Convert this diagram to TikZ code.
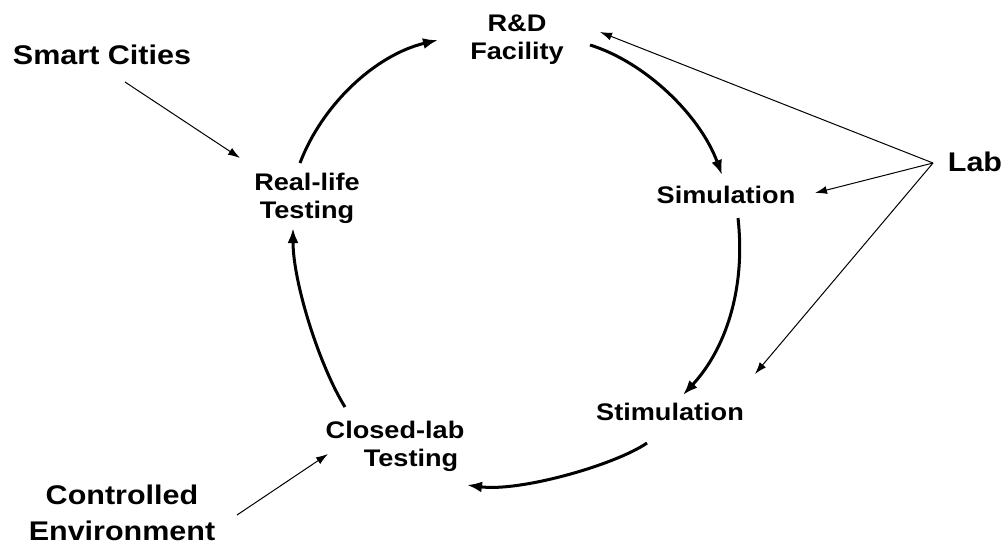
\documentclass[tikz,border=0pt]{standalone}
\usepackage{fontspec}
\setmainfont{Liberation Sans}[FakeStretch=1.13]
\usetikzlibrary{arrows.meta,calc}
\begin{document}
\begin{tikzpicture}[x=1pt,y=-1pt,
  cyclabel/.style={font=\fontsize{24}{28}\selectfont\bfseries, align=center, inner sep=0pt},
  outerlabel/.style={font=\fontsize{27}{36}\selectfont\bfseries, align=center, inner sep=0pt},
  cycarrow/.style={line width=3pt, -{Latex[length=15pt,width=11pt]}},
  thinarrow/.style={line width=1pt, -{Latex[length=12pt,width=8pt]}}]
\useasboundingbox (0,0) rectangle (1005,550);
% cycle nodes
\node[cyclabel] (rd) at (517,40) {R\&D\\Facility};
\node[cyclabel] (sim) at (726,195) {Simulation};
\node[cyclabel] (stim) at (670,412) {Stimulation};
\node[cyclabel] (closed) at (395,446) {Closed-lab\\\hspace*{32pt}Testing};
\node[cyclabel] (real) at (307,198) {Real-life\\Testing};
% outer labels
\node[outerlabel] (smart) at (102,55) {Smart Cities};
\node[outerlabel] (lab) at (975,162) {Lab};
\node[outerlabel] (ctrl) at (122,513) {Controlled\\Environment};
% cycle arrows
\draw[cycarrow] ($(real)+(-7,-35)$) .. controls +(22,-58) and +(-63,15) .. ($(rd)+(-79,0)$);
\draw[cycarrow] ($(rd)+(73,5)$) .. controls +(55,17) and +(-22,-60) .. ($(sim)+(-4,-20)$);
\draw[cycarrow] ($(sim)+(12,23)$) .. controls +(8,72) and +(42,-45) .. ($(stim)+(13,-17)$);
\draw[cycarrow] ($(stim)+(-23,31)$) .. controls +(-32,22) and +(53,7) .. ($(closed)+(72,39)$);
\draw[cycarrow] ($(closed)+(-50,-39)$) .. controls +(-25,-40) and +(0,55) .. ($(real)+(-14,30)$);
% thin arrows
\draw[thinarrow] ($(smart)+(23,27)$) -- ($(real)+(-67,-40)$);
\draw[thinarrow] ($(ctrl)+(115,2)$) -- ($(closed)+(-67,8)$);
\coordinate (apex) at ($(lab)+(-42,1)$);
\draw[thinarrow] (apex) -- ($(rd)+(83,-8)$);
\draw[thinarrow] (apex) -- ($(sim)+(89,-2)$);
\draw[thinarrow] (apex) -- ($(stim)+(85,-38)$);
\end{tikzpicture}
\end{document}
